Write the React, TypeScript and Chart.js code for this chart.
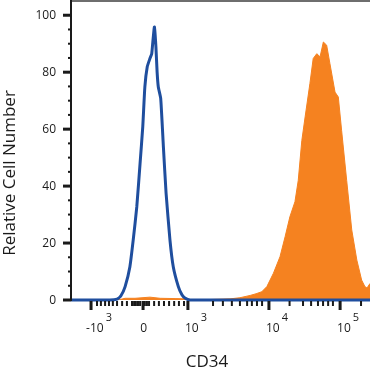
import React, { useEffect, useRef } from 'react';
import { Chart, registerables } from 'chart.js';

Chart.register(...registerables);

// x values are display channels (0..1000) on the biexponential CD34 axis
const blueX = [0, 130, 154, 167, 181, 197, 208, 220, 231, 240, 247, 255, 264, 270, 274, 279, 284, 288, 292, 300, 309, 318, 331, 342, 359, 371, 381, 398, 1000];
const blueY = [0, 0, 0.3, 1.5, 4.7, 11.7, 21, 32.7, 48, 60.8, 74.8, 81.9, 84.8, 86.5, 91, 95.9, 88.9, 80, 74.8, 70.8, 53.8, 37.5, 21, 11.7, 4.7, 1.8, 0.7, 0, 0];

const orangeX = [0, 157, 181, 214, 264, 298, 348, 381, 415, 532, 565, 599, 619, 638, 655, 677, 699, 716, 732, 749, 760, 772, 783, 799, 810, 822, 833, 844, 855, 866, 883, 894, 905, 922, 939, 956, 972, 983, 990, 1000];
const orangeY = [0, 0, 0.6, 0.6, 1.0, 0.6, 0.5, 0.4, 0, 0.4, 0.8, 1.6, 2.2, 2.9, 4.7, 9.4, 15.2, 22.2, 29.2, 34.5, 42, 56, 64.3, 76, 84.8, 86.5, 85.4, 90.6, 89.5, 83, 73, 71.3, 59.6, 42, 24.6, 14, 7, 4.7, 4.2, 5.8];

const yMajorTicks = [0, 20, 40, 60, 80, 100];
const yMinorTicks = [5, 10, 15, 25, 30, 35, 45, 50, 55, 65, 70, 75, 85, 90, 95];

const xMajorTicks = [67, 241, 391, 662, 900];
const xMajorBase = ['-10', '0', '10', '10', '10'];
const xMajorExp = ['3', '', '3', '4', '5'];
const xMinorTicks = [
  87, 100, 114, 127, 140, 154, 171, 187, 204, 211, 217, 224, 231, 247, 254,
  261, 278, 294, 311, 328, 345, 361, 378,
  475, 508, 538, 565, 589, 605, 622, 639,
  731, 776, 803, 826, 843, 860, 876,
  970,
];

const xTitle = 'CD34';
const yTitle = 'Relative Cell Number';

const FONT = '"Open Sans", "DejaVu Sans", sans-serif';
const INK = '#1a1a1a';

const axesPlugin = {
  id: 'flowAxes',
  afterDatasetsDraw(chart: any) {
    const { ctx, chartArea: a, scales } = chart;
    const x = scales.x;
    const y = scales.y;
    ctx.save();
    // top frame line
    ctx.fillStyle = '#6e6e6e';
    ctx.fillRect(a.left, 0, a.right - a.left, 2);
    // y axis line
    ctx.fillStyle = INK;
    ctx.fillRect(a.left - 1, 0, 2, a.bottom + 1);
    // y ticks
    ctx.font = `12px ${FONT}`;
    ctx.textAlign = 'right';
    ctx.textBaseline = 'middle';
    yMajorTicks.forEach((v) => {
      const py = y.getPixelForValue(v);
      ctx.fillRect(a.left - 8, py - 1.5, 8, 3);
      ctx.fillText(String(v), 56, py + 0.5);
    });
    yMinorTicks.forEach((v) => {
      const py = y.getPixelForValue(v);
      ctx.fillRect(a.left - 3, py - 1, 3, 2);
    });
    // x ticks
    xMinorTicks.forEach((v) => {
      const px = x.getPixelForValue(v);
      ctx.fillRect(px - 1, a.bottom + 1, 2, 5);
    });
    xMajorTicks.forEach((v, i) => {
      const px = x.getPixelForValue(v);
      ctx.fillRect(px - 1.5, a.bottom + 1, 3, 9);
      const base = xMajorBase[i];
      const exp = xMajorExp[i];
      ctx.textBaseline = 'alphabetic';
      ctx.textAlign = 'left';
      ctx.font = `12px ${FONT}`;
      const bw = ctx.measureText(base).width;
      ctx.font = `11px ${FONT}`;
      const ew = exp ? ctx.measureText(exp).width + 2 : 0;
      const total = bw + ew;
      const center = exp ? px + 8 : px + 0.5;
      const left = center - total / 2;
      ctx.font = `12px ${FONT}`;
      ctx.fillText(base, left, 332);
      if (exp) {
        ctx.font = `11px ${FONT}`;
        ctx.fillText(exp, left + bw + 2, 321);
      }
    });
    // titles
    ctx.font = `17px ${FONT}`;
    ctx.textAlign = 'center';
    ctx.textBaseline = 'alphabetic';
    ctx.fillText(xTitle, 207, 367);
    ctx.translate(15, 173);
    ctx.rotate(-Math.PI / 2);
    ctx.fillText(yTitle, 0, 0);
    ctx.restore();
  },
};

export default function App() {
  const canvasRef = useRef<HTMLCanvasElement | null>(null);

  useEffect(() => {
    const canvas = canvasRef.current;
    if (!canvas) return;
    const chart = new Chart(canvas, {
      type: 'line',
      data: {
        datasets: [
          {
            label: 'Isotype',
            data: blueX.map((v, i) => ({ x: v, y: blueY[i] })),
            borderColor: '#1f4e9e',
            borderWidth: 3,
            pointRadius: 0,
            fill: false,
            tension: 0.15,
            clip: 6,
          },
          {
            label: 'CD34',
            data: orangeX.map((v, i) => ({ x: v, y: orangeY[i] })),
            borderColor: '#f58220',
            backgroundColor: '#f58220',
            borderWidth: 1,
            pointRadius: 0,
            fill: 'origin',
            tension: 0,
          },
        ],
      },
      options: {
        responsive: false,
        animation: false,
        devicePixelRatio: 1,
        events: [],
        layout: { padding: { top: 1, right: 0, left: 0, bottom: 0 } },
        plugins: { legend: { display: false }, tooltip: { enabled: false } },
        scales: {
          x: {
            type: 'linear',
            min: 0,
            max: 1000,
            grid: { display: false },
            border: { display: false },
            ticks: { display: false },
            afterFit: (s: any) => {
              s.height = 72;
            },
          },
          y: {
            type: 'linear',
            min: 0,
            max: 105,
            grid: { display: false },
            border: { display: false },
            ticks: { display: false },
            afterFit: (s: any) => {
              s.width = 71;
            },
          },
        },
      },
      plugins: [axesPlugin],
    });
    return () => chart.destroy();
  }, []);

  return (
    <div style={{ position: 'fixed', left: 0, top: 0, width: 370, height: 372, background: '#fff' }}>
      <canvas ref={canvasRef} width={370} height={372} style={{ width: 370, height: 372, display: 'block' }} />
    </div>
  );
}
